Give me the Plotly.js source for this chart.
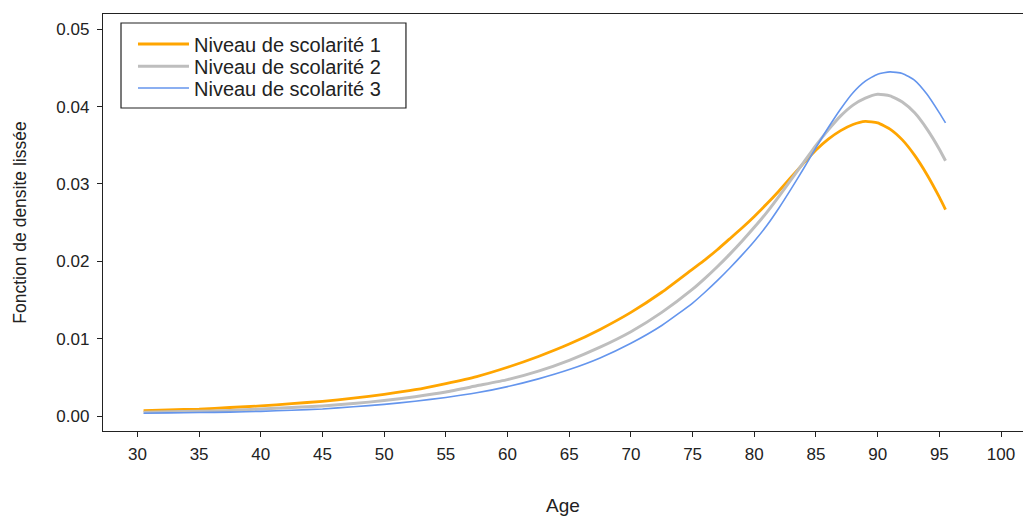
<!DOCTYPE html>
<html>
<head>
<meta charset="utf-8">
<script src="https://cdn.plot.ly/plotly-3.0.1.min.js"></script>
<style>
  html, body { margin: 0; padding: 0; background: #ffffff; }
  #chart { width: 1023px; height: 516px; }
</style>
</head>
<body>
<div id="chart"></div>
<script>
// Smoothed density of age at death, by schooling level
const ages = [30.5, 32.5, 35, 37.5, 40, 42.5, 45, 47.5, 50, 52.5, 55, 57.5, 60, 62.5, 65, 67.5, 70, 72.5,
              75, 76, 77, 78, 79, 80, 81, 82, 83, 84, 85, 86, 87, 88, 89, 90, 91, 92, 93, 94, 95, 95.5];

const niveau1 = [0.0007, 0.0008, 0.0009, 0.0011, 0.0013, 0.0016, 0.0019, 0.0023, 0.0028, 0.0034, 0.0042, 0.0051, 0.0063, 0.0077, 0.0093, 0.0112, 0.0134, 0.0160,
                 0.0190, 0.0202, 0.0215, 0.0229, 0.0243, 0.0258, 0.0274, 0.0291, 0.0309, 0.0327, 0.0344, 0.0358, 0.0369, 0.0377, 0.0381, 0.0379, 0.0371, 0.0357, 0.0337, 0.0312, 0.0283, 0.0267];

const niveau2 = [0.0005, 0.00055, 0.0006, 0.0007, 0.0009, 0.0011, 0.0013, 0.0016, 0.0020, 0.0025, 0.0031, 0.0039, 0.0047, 0.0058, 0.0072, 0.0089, 0.0109, 0.0134,
                 0.0164, 0.0178, 0.0193, 0.0209, 0.0226, 0.0244, 0.0263, 0.0284, 0.0306, 0.0328, 0.0350, 0.0370, 0.0388, 0.0402, 0.0411, 0.0416, 0.0414, 0.0406, 0.0392, 0.0371, 0.0345, 0.0330];

const niveau3 = [0.00035, 0.0004, 0.00045, 0.0005, 0.0006, 0.00075, 0.0009, 0.0012, 0.0015, 0.0019, 0.0024, 0.0030, 0.0038, 0.0048, 0.0060, 0.0075, 0.0094, 0.0117,
                 0.0146, 0.0160, 0.0175, 0.0191, 0.0208, 0.0226, 0.0246, 0.0269, 0.0294, 0.0320, 0.0347, 0.0373, 0.0397, 0.0418, 0.0433, 0.0442, 0.0445, 0.0443, 0.0434, 0.0416, 0.0392, 0.0379];

const seriesNames = ['Niveau de scolarité 1', 'Niveau de scolarité 2', 'Niveau de scolarité 3'];
const seriesColors = ['#FFA500', '#BEBEBE', '#6495ED'];
const seriesWidths = [2.8, 3, 1.6];

const xTicks = [30, 35, 40, 45, 50, 55, 60, 65, 70, 75, 80, 85, 90, 95, 100];
const yTicks = [0, 0.01, 0.02, 0.03, 0.04, 0.05];

const ys = [niveau1, niveau2, niveau3];
const legendIds = ['legend', 'legend2', 'legend3'];
const legendRowsY = [0.928, 0.875, 0.8225];

const font = 'Liberation Sans, Arial, sans-serif';
const ink = '#222222';

const traces = seriesNames.map((name, i) => ({
  x: ages,
  y: ys[i],
  name: name,
  type: 'scatter',
  mode: 'lines',
  legend: legendIds[i],
  line: { color: seriesColors[i], width: seriesWidths[i], shape: 'spline', smoothing: 0.5 },
  hoverinfo: 'skip'
}));

// one legend per row so the rows sit close together inside a single framed box
function legendRow(y) {
  return {
    x: 0.0326, y: y, xanchor: 'left', yanchor: 'middle',
    bgcolor: 'rgba(0,0,0,0)',
    borderwidth: 0,
    font: { family: font, size: 20, color: ink },
    itemwidth: 51
  };
}

const layout = {
  width: 1023,
  height: 516,
  margin: { l: 103, r: 0, t: 14, b: 85 },
  paper_bgcolor: '#ffffff',
  plot_bgcolor: '#ffffff',
  font: { family: font, color: ink },
  showlegend: true,
  legend: legendRow(legendRowsY[0]),
  legend2: legendRow(legendRowsY[1]),
  legend3: legendRow(legendRowsY[2]),
  shapes: [{
    type: 'rect', xref: 'paper', yref: 'paper',
    x0: 0.01957, x1: 0.3293, y0: 0.7746, y1: 0.9784,
    line: { color: ink, width: 1.2 },
    fillcolor: 'rgba(0,0,0,0)',
    layer: 'above'
  }],
  xaxis: {
    range: [27.21, 101.78],
    tickvals: xTicks,
    ticktext: xTicks.map(String),
    ticks: 'outside',
    ticklen: 5,
    tickcolor: ink,
    ticklabelstandoff: 2,
    tickfont: { family: font, size: 17, color: ink },
    showline: true,
    linecolor: ink,
    linewidth: 1.2,
    mirror: true,
    showgrid: false,
    zeroline: false,
    title: { text: 'Age', font: { family: font, size: 19, color: ink }, standoff: 37 }
  },
  yaxis: {
    range: [-0.00194, 0.05198],
    tickvals: yTicks,
    ticktext: yTicks.map(v => v.toFixed(2)),
    ticks: 'outside',
    ticklen: 5,
    tickcolor: ink,
    ticklabelstandoff: 4,
    tickfont: { family: font, size: 17, color: ink },
    showline: true,
    linecolor: ink,
    linewidth: 1.2,
    showgrid: false,
    zeroline: false,
    title: { text: 'Fonction de densite lissée', font: { family: font, size: 17.5, color: ink }, standoff: 25 }
  }
};

Plotly.newPlot('chart', traces, layout, { displayModeBar: false, staticPlot: true });
</script>
</body>
</html>
